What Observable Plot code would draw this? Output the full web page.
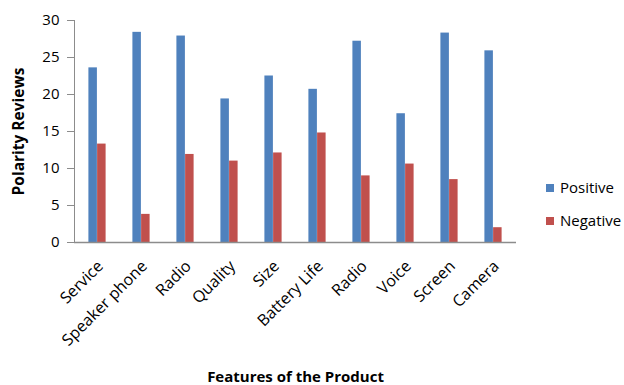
<!DOCTYPE html>
<html><head><meta charset="utf-8">
<script src="https://cdn.jsdelivr.net/npm/d3@7"></script>
<script src="https://cdn.jsdelivr.net/npm/@observablehq/plot@0.6"></script>
<style>
body{margin:0;background:#fff;}
#wrap{position:relative;width:624px;height:385px;font-family:"Open Sans",sans-serif;}
.legend{position:absolute;left:546px;font-size:15px;color:#000;display:flex;align-items:center;line-height:1;}
.sw{width:8px;height:8px;margin-right:6px;display:inline-block}
#wrap svg g[aria-label="y-axis label"] text{font-weight:bold;font-size:15.5px;}
#wrap svg g[aria-label="x-axis label"] text{font-weight:bold;font-size:15px;}
#wrap svg g[aria-label="x-axis tick label"] text{font-size:16px;}
#wrap svg g[aria-label="y-axis tick label"] text{font-size:15px;}
</style></head><body><div id="wrap"></div>
<script>
const categories = ["Service","Speaker phone","Radio","Quality","Size","Battery Life","Radio","Voice","Screen","Camera"];
const positive = [23.6,28.4,27.9,19.4,22.5,20.7,27.2,17.4,28.3,25.9];
const negative = [13.3,3.8,11.9,11.0,12.1,14.8,9.0,10.6,8.5,2.0];
const series = ["Positive","Negative"];
const colors = ["#4F81BD","#C0504D"];
const yTicks = [0,5,10,15,20,25,30];

const idx = categories.map((_, i) => i);
const posRows = idx.map(i => ({i, series: series[0], value: positive[i]}));
const negRows = idx.map(i => ({i, series: series[1], value: negative[i]}));

const chart = Plot.plot({
  width: 624, height: 385,
  marginLeft: 74, marginRight: 108, marginTop: 20, marginBottom: 143,
  style: {fontFamily: "Open Sans", fontSize: "14px", color: "#000", background: "#fff", overflow: "visible"},
  x: {type: "band", domain: idx, padding: 0},
  y: {domain: [0, 30]},
  color: {domain: series, range: colors},
  marks: [
    Plot.barY(posRows, {x: "i", y: "value", fill: "series", insetLeft: 13.4, insetRight: 22.1}),
    Plot.barY(negRows, {x: "i", y: "value", fill: "series", insetLeft: 22.1, insetRight: 13.4}),
    Plot.ruleY([0], {stroke: "#8c8c8c", strokeWidth: 1.5}),
    Plot.frame({anchor: "left", stroke: "#8c8c8c"}),
    Plot.axisY({ticks: yTicks, tickSize: 7, tickPadding: 8, stroke: "#8c8c8c", label: "Polarity Reviews", labelAnchor: "center", labelArrow: "none", labelOffset: 62}),
    Plot.axisX({tickRotate: -45, tickSize: 0, tickPadding: 21, dx: 3, tickFormat: i => categories[i], label: null}),
    Plot.axisX({ticks: [], label: "Features of the Product", labelAnchor: "center", labelArrow: "none", labelOffset: 139})
  ]
});
const wrap = document.getElementById("wrap");
wrap.appendChild(chart);
series.forEach((s, k) => {
  const d = document.createElement("div");
  d.className = "legend";
  d.style.top = (180 + k * 33) + "px";
  d.innerHTML = `<span class="sw" style="background:${colors[k]}"></span>${s}`;
  wrap.appendChild(d);
});
</script></body></html>
